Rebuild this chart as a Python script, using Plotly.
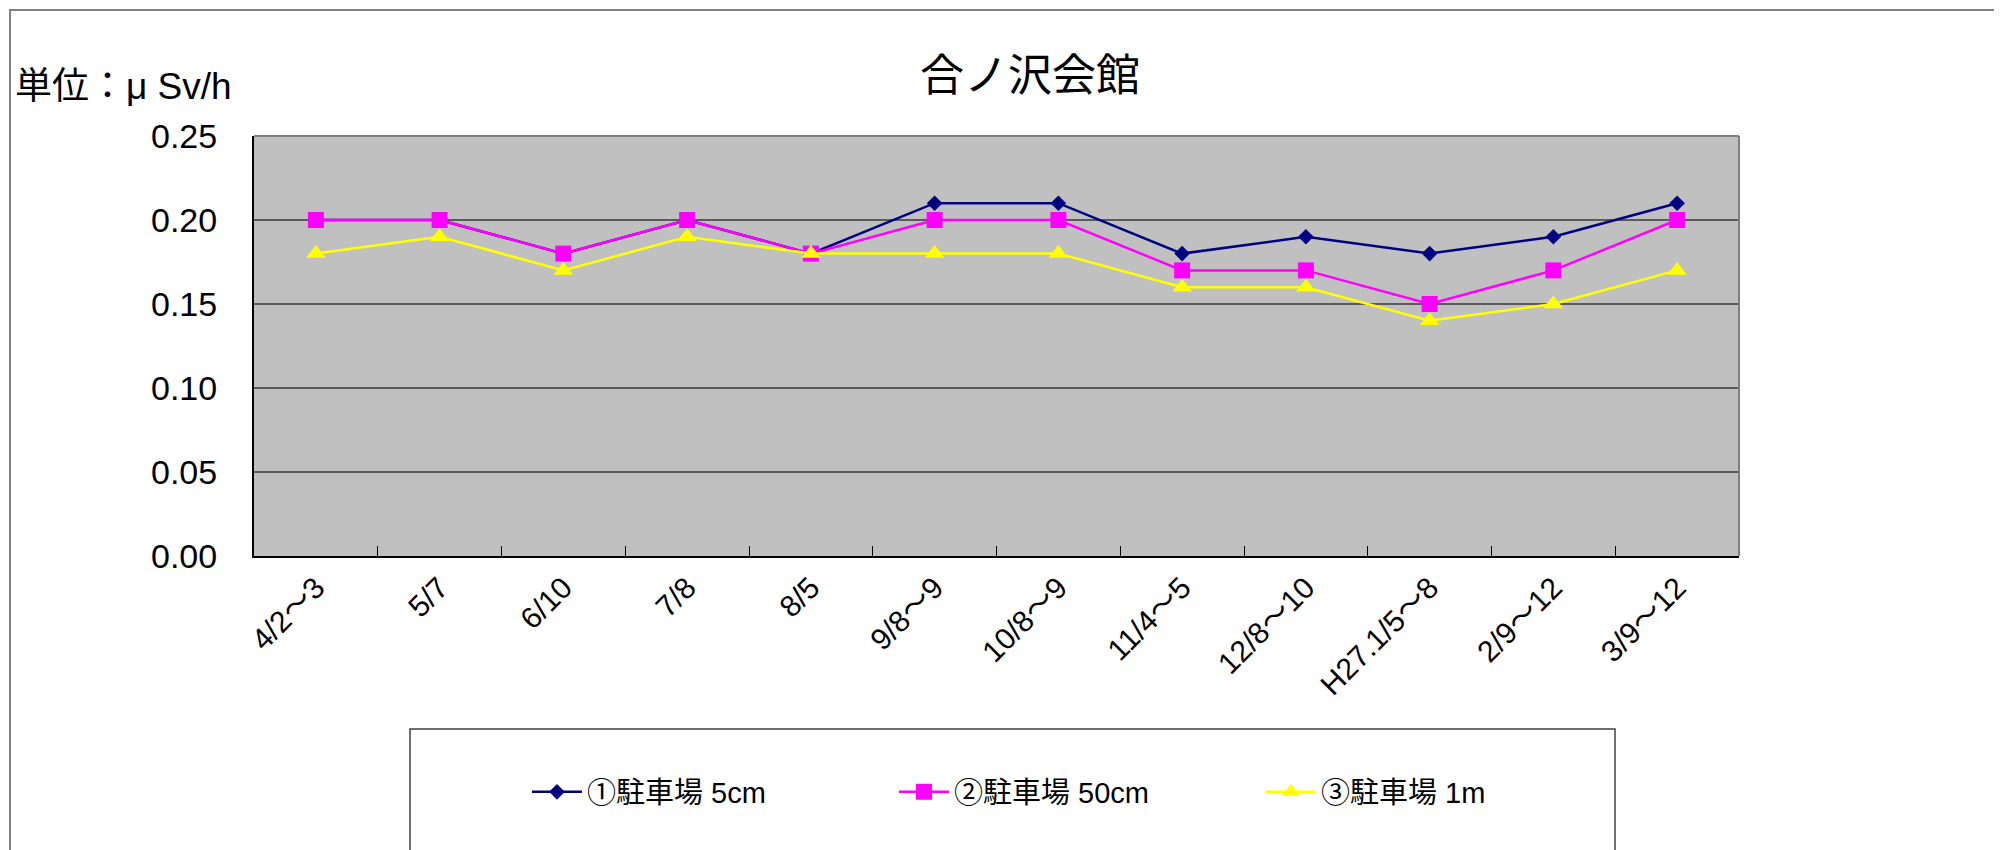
import plotly.graph_objects as go

categories = ["4/2～3", "5/7", "6/10", "7/8", "8/5", "9/8～9", "10/8～9",
              "11/4～5", "12/8～10", "H27.1/5～8", "2/9～12", "3/9～12"]
s1_5cm = [0.20, 0.20, 0.18, 0.20, 0.18, 0.21, 0.21, 0.18, 0.19, 0.18, 0.19, 0.21]
s2_50cm = [0.20, 0.20, 0.18, 0.20, 0.18, 0.20, 0.20, 0.17, 0.17, 0.15, 0.17, 0.20]
s3_1m = [0.18, 0.19, 0.17, 0.19, 0.18, 0.18, 0.18, 0.16, 0.16, 0.14, 0.15, 0.17]
names = ["①駐車場 5cm", "②駐車場 50cm", "③駐車場 1m"]
title_text = "合ノ沢会館"
unit_text = "単位：μ Sv/h"

# page offset of the plot div (default body margin)
O = 8
W, H = 2002, 850
# target plot area in page pixels: x 254..1739, y 136..556
L = 254 - O
T = 136 - O
R = W - (1739 - O)
B = H - (556 - O)
PW, PH = W - L - R, H - T - B


def px(x):
    return (x - O - L) / PW


def py(y):
    return (H - B - (y - O)) / PH


FONT = "Liberation Sans, Arial, Noto Sans CJK JP, sans-serif"

fig = go.Figure()
series = [
    (s1_5cm, names[0], "#000080", "diamond", 12),
    (s2_50cm, names[1], "#FF00FF", "square", 16),
    (s3_1m, names[2], "#FFFF00", "triangle-up", 17),
]
for vals, nm, col, sym, sz in series:
    fig.add_trace(go.Scatter(
        x=categories, y=vals, name=nm, mode="lines+markers",
        line=dict(color=col, width=2.5),
        marker=dict(symbol=sym, size=sz, color=col, line=dict(width=0)),
    ))

fig.update_layout(
    width=W, height=H,
    margin=dict(l=L, r=R, t=T, b=B),
    paper_bgcolor="white",
    plot_bgcolor="#C0C0C0",
    font=dict(family=FONT, color="black"),
    showlegend=True,
    legend=dict(
        orientation="h", x=px(527), xanchor="left", y=py(792), yanchor="middle",
        font=dict(size=29, family=FONT), bgcolor="rgba(0,0,0,0)",
        itemwidth=50, entrywidth=302, entrywidthmode="pixels",
    ),
    xaxis=dict(
        type="category", tickangle=-45, tickfont=dict(size=30),
        ticks="inside", ticklen=10, tickcolor="#000000", tickwidth=1,
        tickson="boundaries", showgrid=False,
        showline=True, linecolor="#000000", linewidth=2,
        range=[-0.5, len(categories) - 0.5], fixedrange=True,
    ),
    yaxis=dict(
        range=[0, 0.25], dtick=0.05, tickformat=".2f",
        tickfont=dict(size=34), ticks="outside", ticklen=0,
        ticklabelstandoff=28,
        showgrid=True, gridcolor="#5A5A5A", gridwidth=1.5,
        showline=True, linecolor="#000000", linewidth=2,
        zeroline=False, fixedrange=True,
    ),
    annotations=[
        dict(text=title_text, x=px(1030), y=py(72), xref="paper", yref="paper",
             xanchor="center", yanchor="middle", showarrow=False,
             font=dict(size=44, family="Noto Sans CJK JP")),
        dict(text=unit_text, x=px(13), y=py(86), xref="paper", yref="paper",
             xanchor="left", yanchor="middle", showarrow=False,
             font=dict(size=37, family=FONT)),
    ],
    shapes=[
        # plot-area frame (top/right gray)
        dict(type="line", xref="paper", yref="paper", x0=0, x1=1, y0=1, y1=1,
             line=dict(color="#808080", width=2), layer="above"),
        dict(type="line", xref="paper", yref="paper", x0=1, x1=1, y0=0, y1=1,
             line=dict(color="#808080", width=2), layer="above"),
        # outer chart border
        dict(type="rect", xref="paper", yref="paper",
             x0=px(10), x1=px(2040), y0=py(900), y1=py(10),
             line=dict(color="#808080", width=2), layer="below"),
        # legend box
        dict(type="rect", xref="paper", yref="paper",
             x0=px(410), x1=px(1615), y0=py(900), y1=py(729),
             line=dict(color="#404040", width=1.5), layer="below"),
    ],
)

fig.write_html("out.html")
